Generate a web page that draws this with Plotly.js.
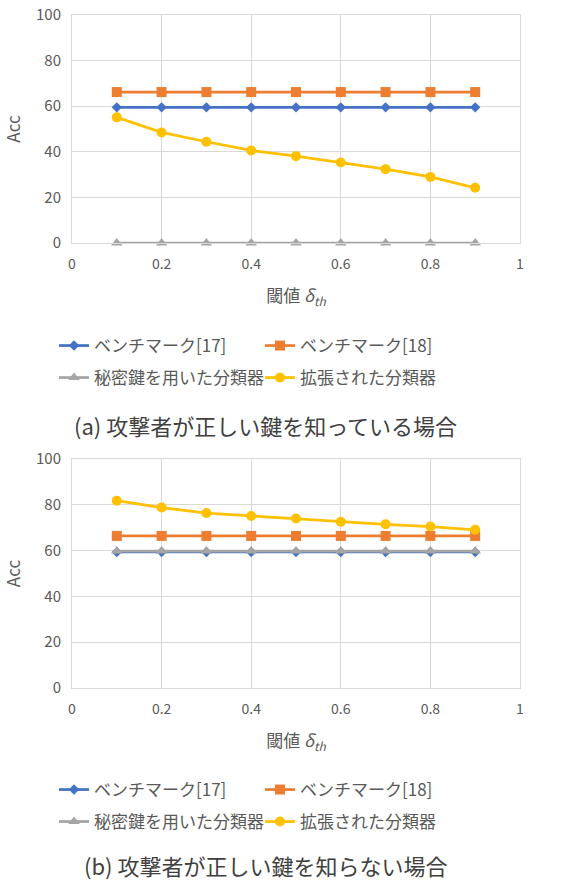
<!DOCTYPE html>
<html>
<head>
<meta charset="utf-8">
<script src="https://cdn.plot.ly/plotly-3.0.1.min.js"></script>
<style>html,body{margin:0;padding:0;background:#fff;}#chart{width:563px;height:884px;}</style>
</head>
<body>
<div id="chart"></div>
<script>
// ---- data ----
const thresholds = [0.1, 0.2, 0.3, 0.4, 0.5, 0.6, 0.7, 0.8, 0.9];
const seriesNames = ['ベンチマーク[17]', 'ベンチマーク[18]', '秘密鍵を用いた分類器', '拡張された分類器'];

// (a) attacker knows the correct key
const a_bench17 = [59.5, 59.5, 59.5, 59.5, 59.5, 59.5, 59.5, 59.5, 59.5];
const a_bench18 = [66.2, 66.2, 66.2, 66.2, 66.2, 66.2, 66.2, 66.2, 66.2];
const a_secret  = [0, 0, 0, 0, 0, 0, 0, 0, 0];
const a_extended = [55.1, 48.5, 44.4, 40.6, 38.1, 35.3, 32.4, 29.0, 24.2];

// (b) attacker does not know the correct key
const b_bench17 = [59.4, 59.4, 59.4, 59.4, 59.4, 59.4, 59.4, 59.4, 59.4];
const b_bench18 = [66.4, 66.4, 66.4, 66.4, 66.4, 66.4, 66.4, 66.4, 66.4];
const b_secret  = [59.8, 59.8, 59.8, 59.8, 59.8, 59.8, 59.8, 59.8, 59.8];
const b_extended = [81.8, 78.8, 76.4, 75.1, 74.0, 72.6, 71.5, 70.5, 69.1];

const captionA = '(a) 攻撃者が正しい鍵を知っている場合';
const captionB = '(b) 攻撃者が正しい鍵を知らない場合';
const xTitle = '閾値 <i>δ</i><sub><i>th</i></sub>';
const yTitle = 'Acc';

// ---- styles ----
const colors = ['#4472C4', '#ED7D31', '#A5A5A5', '#FFC000'];
const symbols = ['diamond', 'square', 'triangle-up', 'circle'];
const msizes = [8, 10, 10, 10];
const textGray = '#595959';
const gridGray = '#D9D9D9';
const FONT = '"Noto Sans CJK JP", "Noto Sans", sans-serif';

function mk(i, y, xa, ya, legend) {
  return {
    x: thresholds, y: y, name: seriesNames[i], type: 'scatter', mode: 'lines+markers',
    xaxis: xa, yaxis: ya, legend: legend, cliponaxis: false,
    line: {color: colors[i], width: 2.75},
    marker: {color: colors[i], symbol: symbols[i], size: msizes[i]}
  };
}

const traces = [
  mk(0, a_bench17, 'x', 'y', 'legend'),
  mk(1, a_bench18, 'x', 'y', 'legend'),
  mk(2, a_secret, 'x', 'y', 'legend2'),
  mk(3, a_extended, 'x', 'y', 'legend2'),
  mk(0, b_bench17, 'x2', 'y2', 'legend3'),
  mk(1, b_bench18, 'x2', 'y2', 'legend3'),
  mk(2, b_secret, 'x2', 'y2', 'legend4'),
  mk(3, b_extended, 'x2', 'y2', 'legend4')
];

function xax(anchor) {
  return {
    anchor: anchor, domain: [0, 1], range: [0, 1], dtick: 0.2, tick0: 0,
    showgrid: true, gridcolor: gridGray, gridwidth: 1,
    showline: true, linecolor: gridGray, linewidth: 1, mirror: true,
    zeroline: false, ticks: '', ticklabelstandoff: 8,
    tickfont: {family: FONT, size: 14, color: textGray},
    title: {text: xTitle, standoff: 18, font: {family: FONT, size: 17, color: textGray}}
  };
}
function yax(anchor, domain) {
  return {
    anchor: anchor, domain: domain, range: [0, 100], dtick: 20,
    showgrid: true, gridcolor: gridGray, gridwidth: 1,
    showline: true, linecolor: gridGray, linewidth: 1, mirror: true,
    zeroline: false, ticks: '', ticklabelstandoff: 7,
    tickfont: {family: FONT, size: 15, color: textGray},
    title: {text: yTitle, standoff: 14, font: {family: FONT, size: 17, color: textGray}}
  };
}

const H = 884, W = 563;
const PL = 72, PR = 520, PT = 15, PB = 688;
function px2paperX(px) { return (px - PL) / (PR - PL); }
function px2paperY(py) { return (PB - py) / (PB - PT); }
const ENTRY_W = 161;
const LEGEND_W = 2 * (ENTRY_W + 45); // approx total legend width
function legendAt(yPix) {
  return {
    orientation: 'h', xref: 'paper', yref: 'paper',
    x: px2paperX(54 + LEGEND_W / 2), xanchor: 'center', y: px2paperY(yPix), yanchor: 'middle',
    entrywidth: ENTRY_W, entrywidthmode: 'pixels',
    font: {family: FONT, size: 17, color: textGray},
    bgcolor: 'rgba(0,0,0,0)', itemclick: false, itemdoubleclick: false
  };
}

const layout = {
  width: W, height: H,
  margin: {l: PL, r: W - PR, t: PT, b: H - PB},
  paper_bgcolor: '#fff', plot_bgcolor: '#fff',
  font: {family: FONT, color: textGray},
  showlegend: true,
  xaxis: xax('y'),
  yaxis: yax('x', [px2paperY(243), 1]),
  xaxis2: xax('y2'),
  yaxis2: yax('x2', [0, px2paperY(459)]),
  legend: legendAt(346),
  legend2: legendAt(378),
  legend3: legendAt(790),
  legend4: legendAt(822),
  annotations: [
    {text: captionA, xref: 'paper', yref: 'paper', x: px2paperX(265), y: px2paperY(425),
     xanchor: 'center', yanchor: 'middle', showarrow: false,
     font: {family: FONT, size: 22, color: '#404040'}},
    {text: captionB, xref: 'paper', yref: 'paper', x: px2paperX(265), y: px2paperY(865),
     xanchor: 'center', yanchor: 'middle', showarrow: false,
     font: {family: FONT, size: 22, color: '#404040'}}
  ]
};

Plotly.newPlot('chart', traces, layout, {displayModeBar: false, staticPlot: true});
</script>
</body>
</html>
